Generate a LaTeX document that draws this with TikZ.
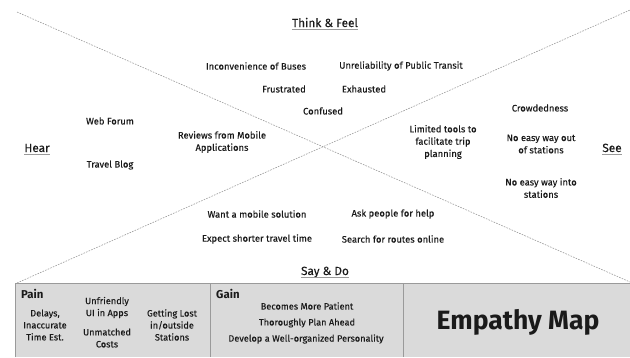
\documentclass[tikz,border=0pt]{standalone}
\usepackage{fontspec}
\setmainfont[UprightFeatures={FakeBold=0.2}]{Fira Sans}
\usetikzlibrary{calc}
\definecolor{ink}{HTML}{1A1A1A}
\definecolor{rule}{HTML}{9A9A9A}
\definecolor{panel}{HTML}{DADADA}
\begin{document}
\begin{tikzpicture}[x=1pt,y=-1pt,
  item/.style={text=ink,font=\fontsize{9.4}{12.3}\selectfont,align=center,inner sep=0pt},
  head/.style={text=ink,font=\fontsize{11.8}{13}\selectfont,inner sep=0pt,anchor=base},
  tag/.style={text=ink,font=\bfseries\fontsize{11.4}{12}\selectfont,inner sep=0pt,anchor=base west},
  cell/.style={text=ink,font=\fontsize{9.2}{12}\selectfont,align=center,inner sep=0pt},
  divider/.style={draw=rule,line width=0.6pt,dash pattern=on 1.6pt off 1.2pt},
  uline/.style={draw=rule,line width=0.7pt}]
\useasboundingbox (0,0) rectangle (630,357);

% quadrant dividers
\coordinate (tl) at (17,12);
\coordinate (br) at (630,282);
\coordinate (bl) at (17,283);
\coordinate (tr) at (630,10);
\draw[divider] (tl) -- (br);
\draw[divider] (bl) -- (tr);

% quadrant headings
\node[head] (think) at (325,27) {Think \& Feel};
\node[head] (hear) at (37,152) {Hear};
\node[head] (see) at (612,152) {See};
\node[head] (say) at (325,275) {Say \& Do};
\foreach \h in {think,hear,see,say}
  \draw[uline] ($(\h.base west)+(0,2.2)$) -- ($(\h.base east)+(0,2.2)$);

% think & feel
\node[item] (t1) at (256,66) {Inconvenience of Buses};
\node[item] (t2) at (401,66) {Unreliability of Public Transit};
\node[item] (t3) at (284,89) {Frustrated};
\node[item] (t4) at (364,89) {Exhausted};
\node[item] (t5) at (323,111) {Confused};

% hear
\node[item] (h1) at (110,121) {Web Forum};
\node[item] (h2) at (110,165) {Travel Blog};
\node[item] (h3) at (222,142) {Reviews from Mobile\\Applications};

% see
\node[item] (s1) at (443,142) {Limited tools to\\facilitate trip\\planning};
\node[item] (s2) at (540,108) {Crowdedness};
\node[item] (s3) at (541,144) {No easy way out\\of stations};
\node[item] (s4) at (541,188) {No easy way into\\stations};

% say & do
\node[item] (d1) at (257,214) {Want a mobile solution};
\node[item] (d2) at (257,239) {Expect shorter travel time};
\node[item] (d3) at (393,214) {Ask people for help};
\node[item] (d4) at (393,239) {Search for routes online};

% bottom panel
\fill[panel] (15,283) rectangle (630,357);
\draw[rule,line width=0.6pt] (15,357) -- (15,283) -- (630,283);
\draw[rule,line width=0.6pt] (210,283) -- (210,357);
\draw[rule,line width=0.6pt] (403,283) -- (403,357);

\node[tag] (pain) at (21,298) {Pain};
\node[cell] (p1) at (45,325) {Delays,\\Inaccurate\\Time Est.};
\node[cell] (p2) at (107,307.5) {Unfriendly\\UI in Apps};
\node[cell] (p3) at (107,338) {Unmatched\\Costs};
\node[cell] (p4) at (172,325) {Getting Lost\\in/outside\\Stations};

\node[tag] (gain) at (216,298) {Gain};
\node[cell] (g1) at (307,306) {Becomes More Patient};
\node[cell] (g2) at (307,323) {Thoroughly Plan Ahead};
\node[cell] (g3) at (306,339) {Develop a Well-organized Personality};

\node[text=ink,font=\bfseries\fontsize{26.5}{28}\selectfont,inner sep=0pt] (title) at (518,322) {Empathy Map};
\end{tikzpicture}
\end{document}
